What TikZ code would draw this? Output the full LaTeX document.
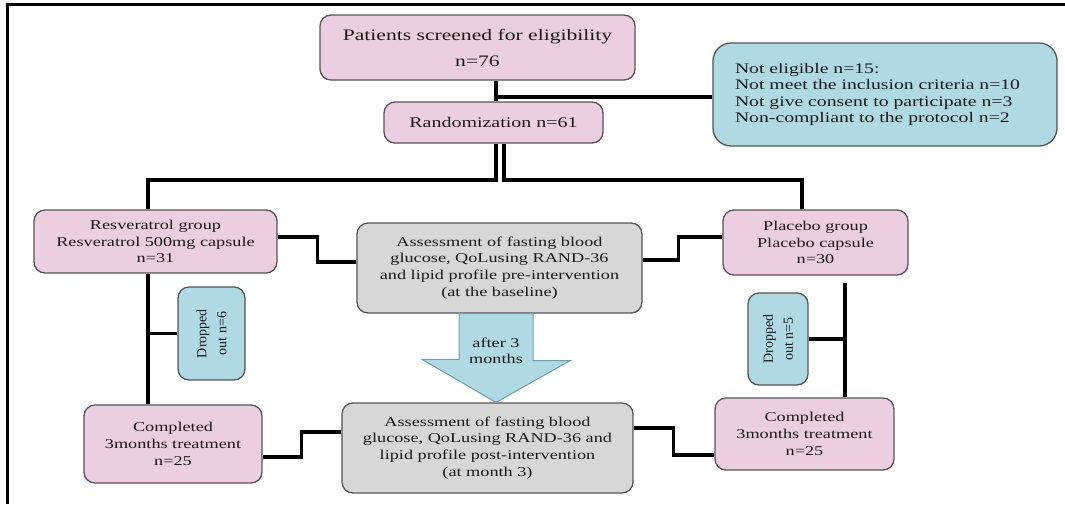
\documentclass[tikz,border=0pt]{standalone}
\usepackage{fontspec}
\setmainfont[FakeStretch=1.35]{Liberation Serif}
\newfontfamily\plainserif{Liberation Serif}

\definecolor{boxpink}{RGB}{236,206,225}
\definecolor{boxblue}{RGB}{176,218,227}
\definecolor{boxgray}{RGB}{215,215,215}
\definecolor{boxline}{RGB}{85,85,85}
\definecolor{arrowline}{RGB}{115,155,172}
\definecolor{inkgray}{RGB}{25,25,25}

\tikzset{
    box/.style={draw=boxline, line width=1.3pt, rounded corners=11pt, align=center,
        inner sep=0pt, text=inkgray, font=\fontsize{13.5}{16.7}\selectfont},
    pinkbox/.style={box, fill=boxpink},
    graybox/.style={box, fill=boxgray},
    bluebox/.style={box, fill=boxblue},
    link/.style={line width=3.2pt, black},
    bigarrow/.style={draw=arrowline, line width=1pt, fill=boxblue},
    droptext/.style={rotate=90, align=center, text=inkgray,
        font=\plainserif\fontsize{14}{20}\selectfont},
}

\begin{document}
\begin{tikzpicture}[x=1pt, y=-1pt]
    \useasboundingbox (0,0) rectangle (1065,504);
    \draw[line width=3pt] (7,504) -- (7,4) -- (1065,4);

    % boxes
    \node[pinkbox, minimum width=315pt, minimum height=65pt, font=\fontsize{16}{26}\selectfont] (screen) at (477.5,47.5) {Patients screened for eligibility\\n=76};
    \node[pinkbox, minimum width=219pt, minimum height=41pt, font=\fontsize{14.8}{18}\selectfont] (rand) at (493.5,122.5) {Randomization n=61};
    \node[bluebox, minimum width=344pt, minimum height=103pt, rounded corners=18pt, text width=300pt, inner xsep=22pt, align=left, font=\fontsize{14.6}{16.3}\selectfont] (noteligible) at (885,94.5) {Not eligible n=15:\\Not meet the inclusion criteria n=10\\Not give consent to participate n=3\\Non-compliant to the protocol n=2};
    \node[pinkbox, minimum width=243pt, minimum height=63pt] (resv) at (155.5,241.5) {Resveratrol group\\Resveratrol 500mg capsule\\n=31};
    \node[pinkbox, minimum width=185pt, minimum height=65pt] (plac) at (815.5,242.5) {Placebo group\\Placebo capsule\\n=30};
    \node[graybox, minimum width=285pt, minimum height=90pt] (base) at (499.5,268) {Assessment of fasting blood\\glucose, QoLusing RAND-36\\and lipid profile pre-intervention\\(at the baseline)};
    \node[graybox, minimum width=291pt, minimum height=90pt] (post) at (487.5,448) {Assessment of fasting blood\\glucose, QoLusing RAND-36 and\\lipid profile post-intervention\\(at month 3)};
    \node[pinkbox, minimum width=178pt, minimum height=78pt] (compL) at (173,444) {Completed\\3months treatment\\n=25};
    \node[pinkbox, minimum width=179pt, minimum height=72pt] (compR) at (804.5,434) {Completed\\3months treatment\\n=25};
    \node[bluebox, minimum width=67pt, minimum height=93pt] (dropL) at (211.5,333.5) {};
    \node[droptext] (dropLtext) at (dropL) {Dropped\\out n=6};
    \node[bluebox, minimum width=60pt, minimum height=92pt] (dropR) at (778,339) {};
    \node[droptext] (dropRtext) at (dropR) {Dropped\\out n=5};

    % big arrow between the assessments
    \coordinate (arrowtop) at ([xshift=-3.5pt]base.south);
    \coordinate (arrowtip) at (arrowtop |- post.north);
    \draw[bigarrow] ([xshift=-37pt]arrowtop) -- ([xshift=37pt]arrowtop) -- ++(0,47) -- ++(37,0)
        -- (arrowtip) -- ++(-74,-43) -- ++(37,0) -- cycle;
    \node[font=\fontsize{13.5}{16}\selectfont, text=inkgray, align=center] (wait) at ([yshift=-37pt]arrowtop) {after 3\\months};

    % turning points
    \coordinate (split) at (496,97);
    \coordinate (leftturn) at (496,180);
    \coordinate (rightturn) at (504,180);
    \coordinate (placturn) at (802,180);
    \coordinate (restrunk) at (148,340);
    \coordinate (plactrunk) at (845,345);
    \coordinate (plactop) at ([yshift=-7pt]plac.south);

    % connectors
    \draw[link] (screen.south -| split) -- (rand.north -| split);
    \draw[link] (split) -- (split -| noteligible.west);
    \draw[link] (rand.south -| leftturn) -- (leftturn) -| (resv.north -| restrunk);
    \draw[link] (rand.south -| rightturn) -- (rightturn) -- (placturn) -- (plac.north -| placturn);
    \draw[link] (resv.south -| restrunk) -- (compL.north -| restrunk);
    \draw[link] (restrunk |- dropL.west) -- (dropL.west);
    \draw[link] (plactop -| plactrunk) -- (compR.north -| plactrunk);
    \draw[link] (plactrunk |- dropR.east) -- (dropR.east);
    \draw[link] ([yshift=4.5pt]resv.east) -- ++(40,0) |- ([yshift=6pt]base.west);
    \draw[link] ([yshift=8pt]base.east) -- ++(36,0) |- ([yshift=5.5pt]plac.west);
    \draw[link] ([yshift=-13pt]compL.east) -- ++(39,0) |- ([yshift=16pt]post.west);
    \draw[link] ([yshift=20pt]post.east) -- ++(40,0) |- ([yshift=-21pt]compR.west);
\end{tikzpicture}
\end{document}
